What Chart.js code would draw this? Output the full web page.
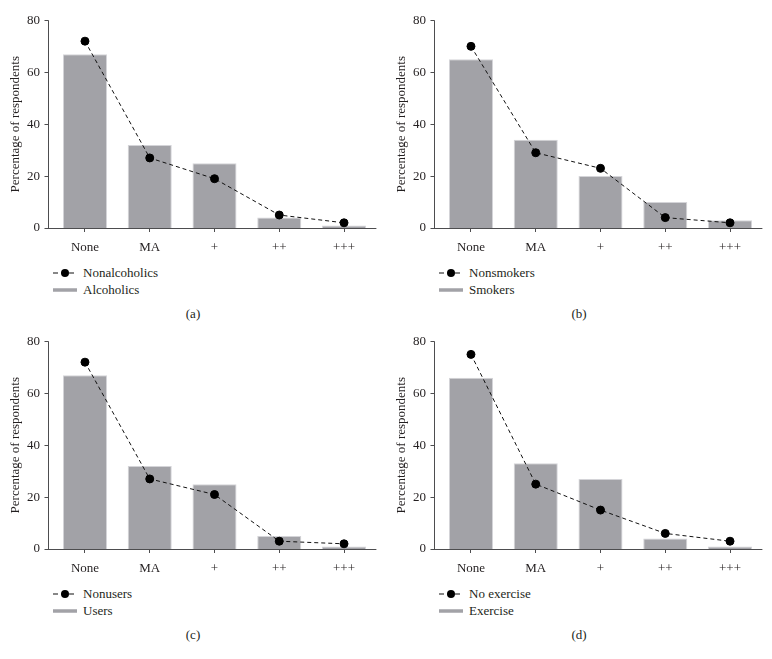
<!DOCTYPE html>
<html>
<head>
<meta charset="utf-8">
<script src="https://cdn.jsdelivr.net/npm/chart.js@4.4.1/dist/chart.umd.min.js"></script>
<style>
  body { margin: 0; background: #fff; font-family: "Liberation Serif", serif; color: #231f20; }
  .panel { position: absolute; width: 386px; height: 330px; }
  .panel canvas { position: absolute; left: 0; top: 0; }
  .legend { position: absolute; left: 53px; top: 264px; font-size: 13px; }
  .legend div { display: flex; align-items: center; height: 17px; }
  .legend svg { margin-right: 6px; }
  .caption { position: absolute; left: 0; width: 386px; top: 305px; text-align: center; font-size: 13px; line-height: 17px; }
</style>
</head>
<body>
<script>
// categories on the x axis
const categories = ["None", "MA", "+", "++", "+++"];
const yTicks = [0, 20, 40, 60, 80];

// (a)
const nonalcoholics = [72, 27, 19, 5, 2];
const alcoholics = [67, 32, 25, 4, 1];
// (b)
const nonsmokers = [70, 29, 23, 4, 2];
const smokers = [65, 34, 20, 10, 3];
// (c)
const nonusers = [72, 27, 21, 3, 2];
const users = [67, 32, 25, 5, 1];
// (d)
const noExercise = [75, 25, 15, 6, 3];
const exercise = [66, 33, 27, 4, 1];

const panels = [
  { tag: "(a)", left: 0, top: 0, lineName: "Nonalcoholics", barName: "Alcoholics", line: nonalcoholics, bars: alcoholics },
  { tag: "(b)", left: 386, top: 0, lineName: "Nonsmokers", barName: "Smokers", line: nonsmokers, bars: smokers },
  { tag: "(c)", left: 0, top: 321, lineName: "Nonusers", barName: "Users", line: nonusers, bars: users },
  { tag: "(d)", left: 386, top: 321, lineName: "No exercise", barName: "Exercise", line: noExercise, bars: exercise },
];

const axisColor = "#4d4d4f";
const textColor = "#231f20";
const barFill = "#a2a2a7";
const font = { family: "Liberation Serif", size: 13 };
const axisGap = 4.5; // y axis line sits a little left of the first bar's slot

Chart.defaults.font.family = font.family;
Chart.defaults.font.size = font.size;
Chart.defaults.color = textColor;

// draws the axis lines and the y tick marks, detached from the plot area
const axesPlugin = {
  id: "axes",
  afterDatasetsDraw(chart) {
    const { ctx, chartArea, scales } = chart;
    const ax = Math.round(chartArea.left - axisGap) + 0.5;
    const y0 = scales.y.getPixelForValue(0);
    const yTop = scales.y.getPixelForValue(80);
    ctx.save();
    ctx.strokeStyle = axisColor;
    ctx.lineWidth = 1;
    ctx.beginPath();
    ctx.moveTo(ax, yTop);
    ctx.lineTo(ax, y0);
    ctx.moveTo(ax - 1, Math.round(y0) + 0.5);
    ctx.lineTo(chartArea.right, Math.round(y0) + 0.5);
    yTicks.forEach(v => {
      const py = Math.round(scales.y.getPixelForValue(v)) + 0.5;
      ctx.moveTo(ax - 4, py);
      ctx.lineTo(ax, py);
    });
    ctx.stroke();
    ctx.restore();
  },
};

const lineIcon = '<svg width="24" height="10"><line x1="0" y1="5" x2="24" y2="5" stroke="#111" stroke-width="1.2" stroke-dasharray="5,3"/><circle cx="12" cy="5" r="4" fill="#000"/></svg>';
const barIcon = '<svg width="24" height="10"><line x1="0" y1="5" x2="24" y2="5" stroke="' + barFill + '" stroke-width="3.5"/></svg>';

panels.forEach(p => {
  const div = document.createElement("div");
  div.className = "panel";
  div.style.left = p.left + "px";
  div.style.top = p.top + "px";
  const canvas = document.createElement("canvas");
  canvas.width = 386;
  canvas.height = 260;
  canvas.style.width = "386px";
  canvas.style.height = "260px";
  div.appendChild(canvas);

  const legend = document.createElement("div");
  legend.className = "legend";
  legend.innerHTML = "<div>" + lineIcon + "<span>" + p.lineName + "</span></div>" +
                     "<div>" + barIcon + "<span>" + p.barName + "</span></div>";
  div.appendChild(legend);

  const cap = document.createElement("div");
  cap.className = "caption";
  cap.textContent = p.tag;
  div.appendChild(cap);
  document.body.appendChild(div);

  new Chart(canvas, {
    type: "bar",
    data: {
      labels: categories,
      datasets: [
        {
          type: "line",
          label: p.lineName,
          data: p.line,
          borderColor: "#111",
          borderWidth: 1,
          borderDash: [4, 3],
          pointRadius: 4,
          pointBackgroundColor: "#000",
          pointBorderColor: "#000",
          tension: 0,
          order: 0,
        },
        {
          label: p.barName,
          data: p.bars,
          backgroundColor: barFill,
          borderColor: "#d4d4d8",
          borderWidth: 1,
          barPercentage: 0.68,
          categoryPercentage: 1,
          order: 1,
        },
      ],
    },
    options: {
      responsive: false,
      animation: false,
      layout: { padding: { top: 13, right: 9.6, left: 0, bottom: 0 } },
      plugins: { legend: { display: false }, tooltip: { enabled: false } },
      scales: {
        x: {
          offset: true,
          grid: { offset: false, drawOnChartArea: false, drawTicks: true, tickLength: 4, color: axisColor },
          border: { display: false },
          ticks: { padding: 8, color: textColor, font: font, maxRotation: 0 },
          afterFit: s => { s.height = 32; },
        },
        y: {
          min: 0,
          max: 80,
          grid: { display: false, drawTicks: false },
          border: { display: false },
          afterBuildTicks: s => { s.ticks = yTicks.map(v => ({ value: v })); },
          ticks: { padding: 12.6, color: textColor, font: font },
          title: { display: true, text: "Percentage of respondents", color: textColor, font: font, padding: { top: 8, bottom: 0 } },
          afterFit: s => { s.width = 52.6; },
        },
      },
    },
    plugins: [axesPlugin],
  });
});
</script>
</body>
</html>
